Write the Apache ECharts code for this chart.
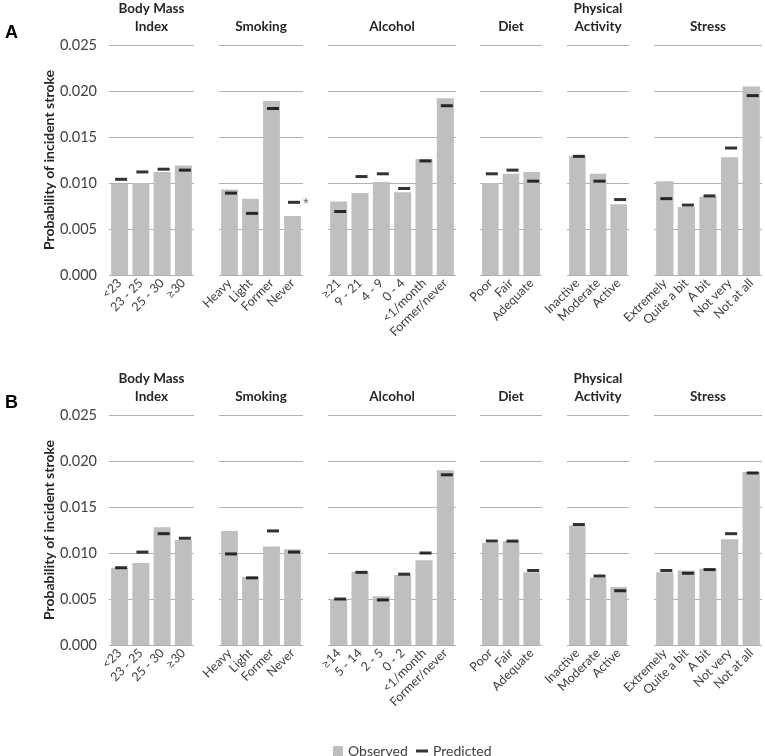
<!DOCTYPE html>
<html>
<head>
<meta charset="utf-8">
<script src="https://cdn.jsdelivr.net/npm/echarts@6/dist/echarts.min.js"></script>
<style>html,body{margin:0;padding:0;background:#fff;}#c{width:765px;height:756px;}</style>
</head>
<body>
<div id="c"></div>
<script>
// ---- Categories ----
const bmiCats = ['<23', '23 - 25', '25 - 30', '≥30'];
const smokingCats = ['Heavy', 'Light', 'Former', 'Never'];
const alcoholCatsA = ['≥21', '9 - 21', '4 - 9', '0 - 4', '<1/month', 'Former/never'];
const alcoholCatsB = ['≥14', '5 - 14', '2 - 5', '0 - 2', '<1/month', 'Former/never'];
const dietCats = ['Poor', 'Fair', 'Adequate'];
const activityCats = ['Inactive', 'Moderate', 'Active'];
const stressCats = ['Extremely', 'Quite a bit', 'A bit', 'Not very', 'Not at all'];

const groupTitles = ['Body Mass\nIndex', 'Smoking', 'Alcohol', 'Diet', 'Physical\nActivity', 'Stress'];
const panelLabels = ['A', 'B'];
const yTicks = [0, 0.005, 0.010, 0.015, 0.020, 0.025];

// ---- Panel A values ----
const bmiObsA = [0.0099, 0.0100, 0.0112, 0.0119];
const bmiPredA = [0.0104, 0.0112, 0.0115, 0.0114];
const smokObsA = [0.0093, 0.0083, 0.0189, 0.0064];
const smokPredA = [0.0089, 0.0067, 0.0181, 0.0079];
const smokMarkA = ['', '', '', '*'];
const alcObsA = [0.0080, 0.0089, 0.0101, 0.0090, 0.0126, 0.0192];
const alcPredA = [0.0069, 0.0107, 0.0110, 0.0094, 0.0124, 0.0184];
const dietObsA = [0.0100, 0.0110, 0.0112];
const dietPredA = [0.0110, 0.0114, 0.0102];
const paObsA = [0.0129, 0.0110, 0.0077];
const paPredA = [0.0129, 0.0102, 0.0082];
const stressObsA = [0.0102, 0.0074, 0.0085, 0.0128, 0.0205];
const stressPredA = [0.0083, 0.0076, 0.0086, 0.0138, 0.0195];

// ---- Panel B values ----
const bmiObsB = [0.0084, 0.0089, 0.0128, 0.0114];
const bmiPredB = [0.0084, 0.0101, 0.0121, 0.0116];
const smokObsB = [0.0124, 0.0074, 0.0107, 0.0104];
const smokPredB = [0.0099, 0.0073, 0.0124, 0.0101];
const alcObsB = [0.0050, 0.0080, 0.0053, 0.0076, 0.0092, 0.0190];
const alcPredB = [0.0050, 0.0079, 0.0049, 0.0077, 0.0100, 0.0185];
const dietObsB = [0.0111, 0.0113, 0.0079];
const dietPredB = [0.0113, 0.0113, 0.0081];
const paObsB = [0.0130, 0.0073, 0.0063];
const paPredB = [0.0131, 0.0075, 0.0059];
const stressObsB = [0.0079, 0.0081, 0.0083, 0.0115, 0.0188];
const stressPredB = [0.0081, 0.0078, 0.0082, 0.0121, 0.0187];

const panels = [
  { cats: [bmiCats, smokingCats, alcoholCatsA, dietCats, activityCats, stressCats],
    obs: [bmiObsA, smokObsA, alcObsA, dietObsA, paObsA, stressObsA],
    pred: [bmiPredA, smokPredA, alcPredA, dietPredA, paPredA, stressPredA],
    marks: [null, smokMarkA, null, null, null, null] },
  { cats: [bmiCats, smokingCats, alcoholCatsB, dietCats, activityCats, stressCats],
    obs: [bmiObsB, smokObsB, alcObsB, dietObsB, paObsB, stressObsB],
    pred: [bmiPredB, smokPredB, alcPredB, dietPredB, paPredB, stressPredB],
    marks: [null, null, null, null, null, null] }
];

// ---- Layout ----
const FONT = 'Lato';
const groupLeft = [109, 219, 328, 480, 567, 654];
const groupWidth = [85, 84, 128, 62, 62, 108];
const panelTop = [45, 415];
const panelHeight = 230;

const grid = [], xAxis = [], yAxis = [], series = [], graphic = [];

panels.forEach((p, pi) => {
  graphic.push({
    type: 'text', left: 5, top: panelTop[pi] - 21,
    style: { text: panelLabels[pi], font: 'bold 18px "Liberation Sans", Arial', fill: '#000' }
  });
  for (let g = 0; g < 6; g++) {
    const idx = pi * 6 + g;
    grid.push({ left: groupLeft[g], width: groupWidth[g], top: panelTop[pi], height: panelHeight, containLabel: false });
    xAxis.push({
      type: 'category', gridIndex: idx, data: p.cats[g],
      axisLine: { show: false }, axisTick: { show: false },
      axisLabel: { interval: 0, rotate: 45, margin: 6, fontFamily: FONT, fontSize: 12.5, color: '#404040' }
    });
    yAxis.push({
      type: 'value', gridIndex: idx, min: yTicks[0], max: yTicks[yTicks.length - 1], interval: yTicks[1] - yTicks[0],
      axisLine: { show: false }, axisTick: { show: false },
      splitLine: { show: true, lineStyle: { color: '#b0b0b0', width: 1 } },
      axisLabel: { show: g === 0, margin: 12, fontFamily: FONT, fontSize: 14.5, color: '#404040',
        formatter: v => v.toFixed(3) },
      name: g === 0 ? 'Probability of incident stroke' : '',
      nameLocation: 'middle', nameGap: 52, nameRotate: 90,
      nameTextStyle: { fontFamily: FONT, fontWeight: 'bold', fontSize: 14, color: '#262626' }
    });
    series.push({
      name: 'Observed', type: 'bar', xAxisIndex: idx, yAxisIndex: idx,
      data: p.obs[g], barCategoryGap: '20%',
      itemStyle: { color: '#bfbfbf' }, z: 2, animation: false
    });
    const marks = p.marks[g];
    series.push({
      name: 'Predicted', type: 'scatter', xAxisIndex: idx, yAxisIndex: idx,
      data: p.pred[g].map((v, i) => (marks && marks[i]) ? {
        value: v,
        label: { show: true, position: 'right', distance: 3, formatter: marks[i],
          fontFamily: '"Liberation Sans", Arial', fontSize: 15, color: '#404040', offset: [0, 2] }
      } : v),
      symbol: 'rect', symbolSize: [12, 3], symbolOffset: [1.5, 0],
      itemStyle: { color: '#000' }, z: 4, animation: false
    });
    graphic.push({
      type: 'text', x: groupLeft[g] + groupWidth[g] / 2, y: panelTop[pi] - 9,
      style: { text: groupTitles[g], fontFamily: FONT, fontWeight: 'bold', fontSize: 13.5, lineHeight: 18,
        fill: '#262626', align: 'center', verticalAlign: 'bottom' }
    });
  }
});

const chart = echarts.init(document.getElementById('c'), null, { renderer: 'canvas' });
chart.setOption({
  animation: false,
  grid, xAxis, yAxis, series, graphic,
  legend: [
    { data: ['Observed'], left: 328, top: 739, icon: 'rect', itemWidth: 10, itemHeight: 10, itemGap: 10,
      textStyle: { fontFamily: FONT, fontSize: 14, color: '#404040' } },
    { data: ['Predicted'], left: 411, top: 739, icon: 'rect', itemWidth: 12, itemHeight: 3,
      textStyle: { fontFamily: FONT, fontSize: 14, color: '#404040' } }
  ]
});
</script>
</body>
</html>
